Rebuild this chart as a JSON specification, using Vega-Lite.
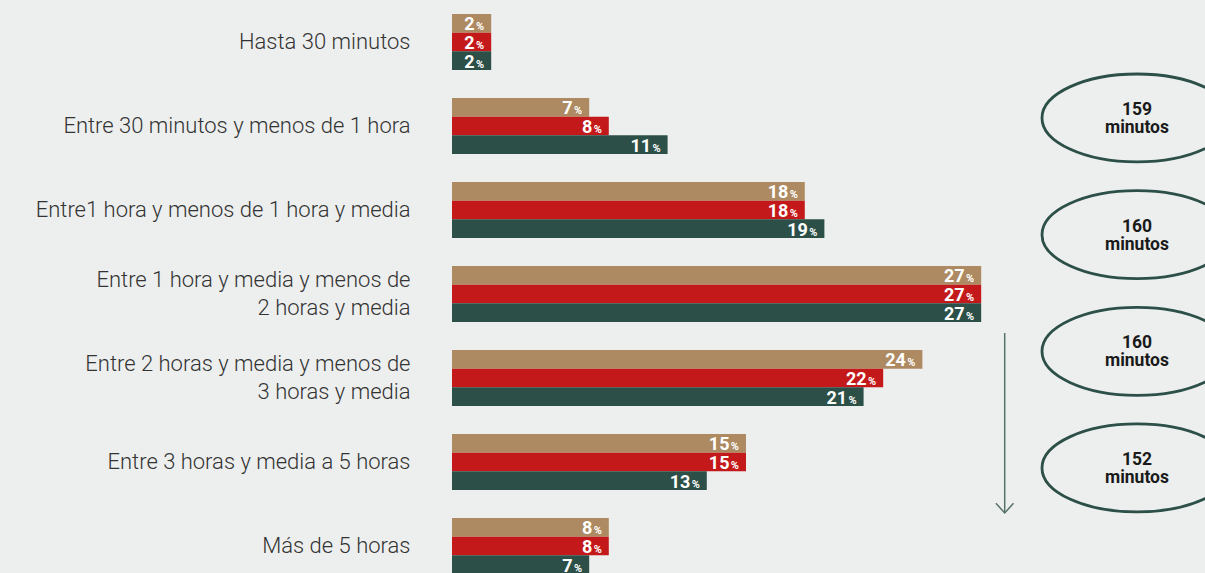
{
  "$schema": "https://vega.github.io/schema/vega-lite/v6.json",
  "width": 753,
  "height": 588,
  "autosize": {"type": "none"},
  "padding": {"left": 452, "top": 0, "right": 0, "bottom": 0},
  "background": "#edefee",
  "config": {"view": {"stroke": null}, "font": "Roboto"},
  "layer": [
    {
      "data": {
        "values": [
          {"cat": "Hasta 30 minutos", "serie": "A", "v": 2},
          {"cat": "Hasta 30 minutos", "serie": "B", "v": 2},
          {"cat": "Hasta 30 minutos", "serie": "C", "v": 2},
          {"cat": "Entre 30 minutos y menos de 1 hora", "serie": "A", "v": 7},
          {"cat": "Entre 30 minutos y menos de 1 hora", "serie": "B", "v": 8},
          {"cat": "Entre 30 minutos y menos de 1 hora", "serie": "C", "v": 11},
          {"cat": "Entre1 hora y menos de 1 hora y media", "serie": "A", "v": 18},
          {"cat": "Entre1 hora y menos de 1 hora y media", "serie": "B", "v": 18},
          {"cat": "Entre1 hora y menos de 1 hora y media", "serie": "C", "v": 19},
          {"cat": "Entre 1 hora y media y menos de|2 horas y media", "serie": "A", "v": 27},
          {"cat": "Entre 1 hora y media y menos de|2 horas y media", "serie": "B", "v": 27},
          {"cat": "Entre 1 hora y media y menos de|2 horas y media", "serie": "C", "v": 27},
          {"cat": "Entre 2 horas y media y menos de|3 horas y media", "serie": "A", "v": 24},
          {"cat": "Entre 2 horas y media y menos de|3 horas y media", "serie": "B", "v": 22},
          {"cat": "Entre 2 horas y media y menos de|3 horas y media", "serie": "C", "v": 21},
          {"cat": "Entre 3 horas y media a 5 horas", "serie": "A", "v": 15},
          {"cat": "Entre 3 horas y media a 5 horas", "serie": "B", "v": 15},
          {"cat": "Entre 3 horas y media a 5 horas", "serie": "C", "v": 13},
          {"cat": "Más de 5 horas", "serie": "A", "v": 8},
          {"cat": "Más de 5 horas", "serie": "B", "v": 8},
          {"cat": "Más de 5 horas", "serie": "C", "v": 7}
        ]
      },
      "encoding": {
        "y": {
          "field": "cat", "type": "nominal", "sort": null,
          "scale": {"paddingInner": 0.3333, "paddingOuter": 0.1667},
          "axis": {
            "title": null, "domain": false, "ticks": false,
            "labelPadding": 42, "labelFont": "Roboto", "labelFontWeight": 300,
            "labelFontSize": 22, "labelColor": "#333333", "labelLimit": 500,
            "labelLineHeight": 28, "labelBaseline": "middle",
            "labelOffset": {"condition": {"test": "indexof(datum.value, '|') >= 0", "value": -14}, "value": 0},
            "labelExpr": "split(datum.label, '|')"
          }
        },
        "yOffset": {"field": "serie", "type": "nominal", "sort": ["A", "B", "C"], "scale": {"paddingInner": 0, "paddingOuter": 0}},
        "x": {"field": "v", "type": "quantitative", "scale": {"domain": [0, 38.42], "nice": false}, "axis": null}
      },
      "layer": [
        {
          "mark": {"type": "bar", "cornerRadius": 0},
          "encoding": {
            "color": {"field": "serie", "type": "nominal", "scale": {"domain": ["A", "B", "C"], "range": ["#ad8a62", "#c4191b", "#2c4f48"]}, "legend": null}
          }
        },
        {
          "mark": {"type": "text", "align": "right", "baseline": "alphabetic", "dx": -16.5, "dy": 7, "font": "Roboto", "fontWeight": "bold", "fontSize": 18, "color": "#ffffff"},
          "encoding": {"text": {"field": "v", "type": "quantitative"}}
        },
        {
          "mark": {"type": "text", "align": "right", "baseline": "alphabetic", "dx": -7, "dy": 7, "font": "Roboto", "fontWeight": "bold", "fontSize": 11, "color": "#ffffff", "text": "%"},
          "encoding": {}
        }
      ]
    },
    {
      "layer": [
        {
          "data": {
            "values": [
              {"pos": 1, "xpos": 34.95, "label": "159\nminutos"},
              {"pos": 2, "xpos": 34.95, "label": "160\nminutos"},
              {"pos": 3, "xpos": 34.95, "label": "160\nminutos"},
              {"pos": 4, "xpos": 34.95, "label": "152\nminutos"}
            ]
          },
          "encoding": {
            "x": {"field": "xpos", "type": "quantitative", "scale": {"domain": [0, 38.42], "nice": false}, "axis": null},
            "y": {"field": "pos", "type": "quantitative", "scale": {"domain": [-0.0114, 5.029], "nice": false, "zero": false, "reverse": true}, "axis": null}
          },
          "layer": [
            {
              "mark": {"type": "point", "shape": "M -1 0 A 1 0.463 0 1 0 1 0 A 1 0.463 0 1 0 -1 0 Z", "size": 36100, "filled": false, "stroke": "#2c4f48", "strokeWidth": 2.8, "opacity": 1}
            },
            {
              "mark": {"type": "text", "lineBreak": "\n", "align": "center", "baseline": "middle", "lineHeight": 18, "font": "Roboto", "fontWeight": "bold", "fontSize": 17.5, "color": "#1a1a1a", "dy": -8},
              "encoding": {"text": {"field": "label"}}
            }
          ]
        },
        {
          "data": {"values": [{"xa": 28.2, "ytop": 2.843, "ytip": 4.386}]},
          "layer": [
            {
              "mark": {"type": "rule", "color": "#56736b", "strokeWidth": 1.5},
              "encoding": {
                "x": {"field": "xa", "type": "quantitative", "scale": {"domain": [0, 38.42], "nice": false}, "axis": null},
                "y": {"field": "ytop", "type": "quantitative", "scale": {"domain": [-0.0114, 5.029], "nice": false, "zero": false, "reverse": true}, "axis": null},
                "y2": {"field": "ytip"}
              }
            },
            {
              "mark": {"type": "point", "shape": "M -1 -1.1 L 0 0 L 1 -1.1", "size": 310, "filled": false, "stroke": "#56736b", "strokeWidth": 1.5, "opacity": 1},
              "encoding": {
                "x": {"field": "xa", "type": "quantitative", "scale": {"domain": [0, 38.42], "nice": false}, "axis": null},
                "y": {"field": "ytip", "type": "quantitative", "scale": {"domain": [-0.0114, 5.029], "nice": false, "zero": false, "reverse": true}, "axis": null}
              }
            }
          ]
        }
      ]
    }
  ],
  "resolve": {"scale": {"y": "independent"}}
}
